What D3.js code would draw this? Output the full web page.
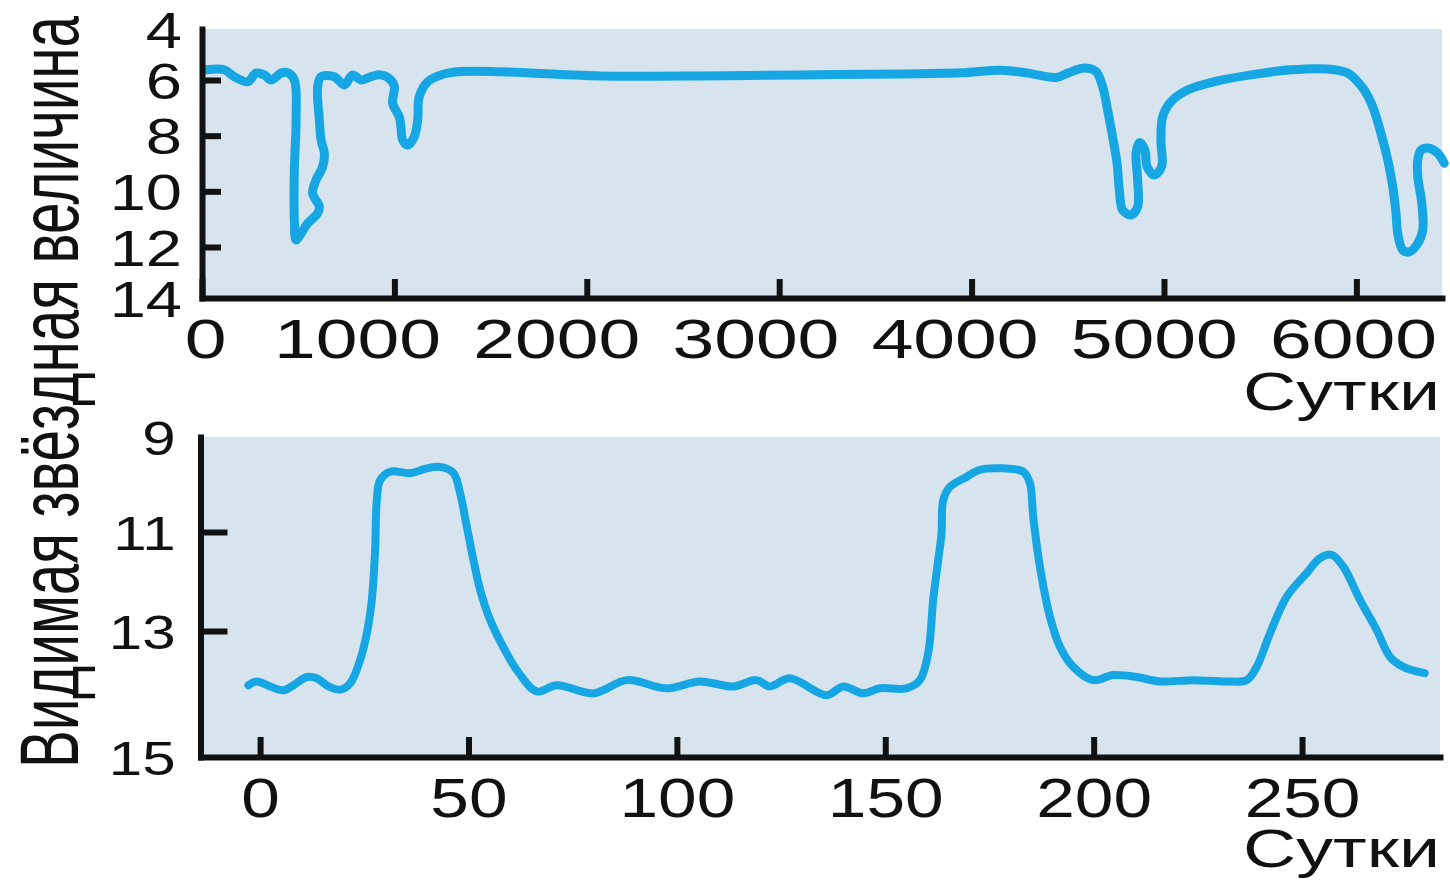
<!DOCTYPE html>
<html>
<head>
<meta charset="utf-8">
<script src="https://cdn.jsdelivr.net/npm/d3@7"></script>
<style>
  html, body { margin: 0; padding: 0; background: #fff; }
  svg { display: block; }
</style>
</head>
<body>
<svg id="chart" width="1450" height="881"></svg>
<script>
// Long-term light curve: day number and apparent magnitude
const longDays = [20, 116, 168, 238, 281, 324, 359, 411, 445, 480, 489, 480, 480, 489, 515, 549, 601, 610, 575, 593,
  627, 636, 619, 610, 601, 619, 688, 740, 783, 826, 878, 930, 982, 1000, 991, 1025, 1034, 1043, 1069, 1103,
  1121, 1129, 1173, 1242, 1346, 1554, 1866, 2074, 2594, 3113, 3633, 3945, 4153, 4292, 4439, 4500, 4586, 4647, 4681, 4707,
  4733, 4756, 4768, 4785, 4828, 4863, 4863, 4855, 4872, 4901, 4912, 4950, 4988, 4984, 4993, 5036, 5123, 5262, 5452, 5660,
  5851, 5955, 5989, 6041, 6085, 6128, 6163, 6189, 6206, 6215, 6241, 6275, 6319, 6345, 6340, 6319, 6319, 6336, 6379, 6423, 6457];
const longMag = [5.6, 5.6, 5.87, 6.06, 5.73, 5.8, 6.0, 5.73, 5.71, 6.0, 7.44, 9.23, 11.03, 11.75, 11.51, 11.15, 10.79, 10.55, 10.07, 9.59,
  9.12, 8.63, 8.16, 7.44, 6.24, 5.87, 5.87, 6.18, 5.8, 6.0, 5.87, 5.8, 6.0, 6.24, 6.84, 7.32, 7.68, 8.16, 8.34, 8.04,
  7.44, 6.6, 6.06, 5.8, 5.67, 5.68, 5.78, 5.84, 5.84, 5.8, 5.76, 5.72, 5.62, 5.73, 5.9, 5.73, 5.53, 5.67, 6.24, 7.08,
  8.04, 8.99, 9.95, 10.67, 10.85, 10.55, 9.59, 8.63, 8.25, 8.52, 9.11, 9.41, 9.11, 8.16, 7.32, 6.78, 6.36, 6.06, 5.8, 5.6,
  5.57, 5.73, 5.93, 6.36, 6.96, 7.92, 8.87, 9.83, 10.79, 11.51, 12.12, 12.19, 11.87, 11.39, 10.43, 9.47, 8.87, 8.52, 8.45, 8.63, 8.99];

// Short-term light curve: day number and apparent magnitude
const shortDays = [-2.8, -0.8, 2.4, 5.6, 8.0, 11.2, 13.6, 16.4, 19.2, 21.6, 24.0, 25.6, 26.8, 27.6, 28.0, 28.8, 31.2, 36.0, 40.0, 43.2,
  46.4, 48.0, 49.6, 51.2, 52.8, 55.2, 58.3, 61.9, 66.4, 71.2, 80.0, 88.0, 97.6, 105.5, 113.5, 119.1, 122.3, 127.1, 135.9, 139.9,
  144.7, 148.7, 155.1, 158.3, 160.3, 161.5, 162.7, 163.5, 163.9, 165.5, 169.5, 172.7, 178.3, 183.1, 184.7, 185.5, 187.1, 189.5, 191.9, 195.1,
  199.9, 204.7, 210.3, 215.9, 223.9, 231.9, 236.7, 239.1, 242.3, 246.3, 251.1, 254.3, 257.1, 259.9, 263.9, 267.9, 271.1, 274.3, 279.4];
const shortMag = [13.86, 13.80, 13.88, 13.94, 13.86, 13.73, 13.75, 13.88, 13.93, 13.83, 13.46, 13.04, 12.37, 11.36, 10.33, 9.91, 9.73, 9.76, 9.66, 9.63,
  9.76, 10.19, 10.89, 11.57, 12.17, 12.78, 13.25, 13.65, 13.96, 13.86, 13.99, 13.78, 13.91, 13.80, 13.88, 13.78, 13.88, 13.75, 14.02, 13.88,
  13.99, 13.91, 13.91, 13.78, 13.35, 12.37, 11.57, 11.03, 10.33, 10.05, 9.84, 9.69, 9.66, 9.73, 9.97, 10.68, 11.70, 12.71, 13.25, 13.57,
  13.78, 13.70, 13.73, 13.80, 13.78, 13.80, 13.78, 13.57, 13.04, 12.31, 11.83, 11.53, 11.46, 11.70, 12.37, 12.98, 13.41, 13.57, 13.67];

// Tick values and labels
const longXTicks = [0, 1000, 2000, 3000, 4000, 5000, 6000];
const longYTicks = [4, 6, 8, 10, 12, 14];
const shortXTicks = [0, 50, 100, 150, 200, 250];
const shortYTicks = [9, 11, 13, 15];
const xTitle = "Сутки";
const yTitle = "Видимая звёздная величина";

const FONT = '"Liberation Sans", Arial, Helvetica, sans-serif';
const LINE_COLOR = "#16a6e3";
const PANEL_COLOR = "#d7e4ed";
const INK = "#111";

const svg = d3.select("#chart");

// Scales (magnitude axes are inverted: brighter is higher)
const xLong = d3.scaleLinear().domain([0, 6445]).range([202, 1442]);
const yLong = d3.scaleLinear().domain([4, 6, 12, 14]).range([29, 80, 247, 298]);
const xLongLabel = d3.scaleLinear().domain([0, 1000, 6000]).range([205, 357, 1353]);

const xShort = d3.scaleLinear().domain([-14.3, 283.1]).range([200.5, 1440]);
const yShort = d3.scaleLinear().domain([9, 11, 13, 15]).range([437, 532, 631, 757]);

// Squeeze or stretch a text horizontally (in its own frame) to a given width
function fitText(textSel, width, prefix) {
  const len = textSel.node().getComputedTextLength();
  textSel.attr("transform", `${prefix} scale(${width / len},1)`);
}

function drawPanel(opt) {
  const g = svg.append("g");
  const [x0, x1] = opt.x.range();
  const yr = opt.y.range();
  const yTop = yr[0], yBot = yr[yr.length - 1];

  g.append("rect")
    .attr("x", x0).attr("y", yTop)
    .attr("width", x1 - x0).attr("height", yBot - yTop)
    .attr("fill", PANEL_COLOR);

  const pts = d3.zip(opt.days, opt.mags);
  const line = d3.line()
    .x(d => opt.x(d[0]))
    .y(d => opt.y(d[1]))
    .curve(d3.curveCatmullRom.alpha(0.5));

  g.append("path")
    .attr("d", line(pts))
    .attr("fill", "none")
    .attr("stroke", LINE_COLOR)
    .attr("stroke-width", opt.lineWidth)
    .attr("stroke-linejoin", "round")
    .attr("stroke-linecap", "round");

  // bottom axis with inward ticks
  const xAxis = d3.axisBottom(opt.x)
    .tickValues(opt.xTicks)
    .tickSizeInner(-opt.xTickLen)
    .tickSizeOuter(0)
    .tickPadding(20)
    .tickFormat(d3.format("d"));
  const gx = g.append("g")
    .attr("transform", `translate(0,${yBot})`)
    .call(xAxis)
    .attr("color", INK)
    .attr("font-family", FONT)
    .attr("font-size", opt.xFont);
  gx.select(".domain").attr("stroke-width", 6).attr("stroke-linecap", "square");
  gx.selectAll(".tick line").attr("stroke-width", 6);
  gx.selectAll(".tick text")
    .attr("fill", INK)
    .attr("transform", d => {
      const dx = opt.xLabelAt ? opt.xLabelAt(d) - opt.x(d) : 0;
      return `translate(${dx},0) scale(${opt.xScaleX},1)`;
    });

  // left axis with inward ticks; end values carry labels only
  const yAxis = d3.axisLeft(opt.y)
    .tickValues(opt.yTicks)
    .tickSizeInner(-opt.yTickLen)
    .tickSizeOuter(0)
    .tickPadding(opt.yPad / opt.yScaleX)
    .tickFormat(d3.format("d"));
  const gy = g.append("g")
    .attr("transform", `translate(${x0},0)`)
    .call(yAxis)
    .attr("color", INK)
    .attr("font-family", FONT)
    .attr("font-size", opt.yFont);
  gy.select(".domain").attr("stroke-width", 6).attr("stroke-linecap", "square");
  const yd = opt.y.domain();
  gy.selectAll(".tick line")
    .attr("stroke-width", 6)
    .attr("display", d => (d === yd[0] || d === yd[yd.length - 1]) ? "none" : null);
  gy.selectAll(".tick text")
    .attr("fill", INK)
    .attr("dy", "0.36em")
    .attr("transform", `scale(${opt.yScaleX},1)`);

  // axis title, right-aligned under the tick labels
  const t = g.append("text")
    .attr("text-anchor", "end")
    .attr("font-family", FONT)
    .attr("font-size", 54)
    .attr("fill", INK)
    .text(xTitle);
  fitText(t, 197, `translate(1440,${opt.titleBaseline})`);
}

drawPanel({
  x: xLong, y: yLong, days: longDays, mags: longMag,
  xTicks: longXTicks, yTicks: longYTicks,
  xTickLen: 19, yTickLen: 19, lineWidth: 9,
  xFont: 56, xScaleX: 1.34, xLabelAt: xLongLabel,
  yFont: 50, yScaleX: 1.3, yPad: 20,
  titleBaseline: 410
});

drawPanel({
  x: xShort, y: yShort, days: shortDays, mags: shortMag,
  xTicks: shortXTicks, yTicks: shortYTicks,
  xTickLen: 20, yTickLen: 27, lineWidth: 8,
  xFont: 56, xScaleX: 1.24, xLabelAt: null,
  yFont: 48, yScaleX: 1.25, yPad: 25,
  titleBaseline: 867
});

// shared vertical title, condensed along its length
const yt = svg.append("text")
  .attr("text-anchor", "start")
  .attr("font-family", FONT)
  .attr("font-size", 84)
  .attr("fill", INK)
  .text(yTitle);
fitText(yt, 752, "translate(78,768) rotate(-90)");
</script>
</body>
</html>
